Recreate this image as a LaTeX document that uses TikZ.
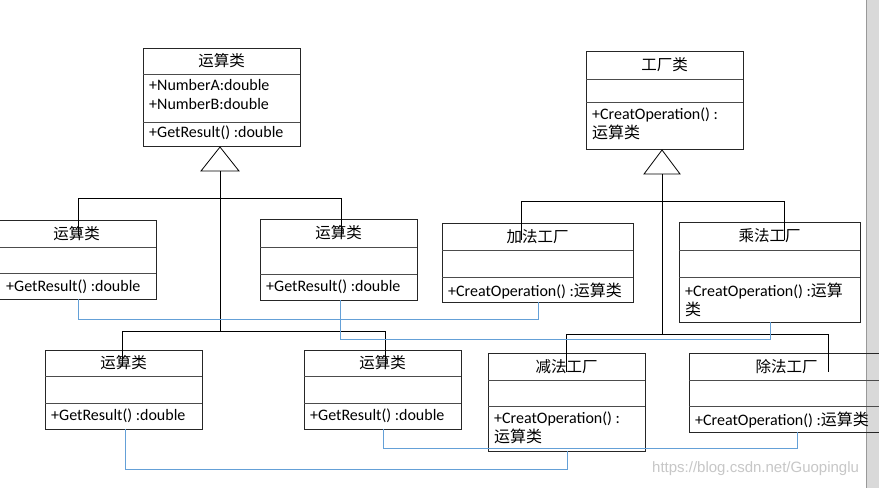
\documentclass[tikz,border=0pt]{standalone}
\usepackage{fontspec}
\setmainfont{Carlito}
\newfontfamily\cjk{Noto Sans CJK SC}
\newfontfamily\wmfont{Liberation Sans}
\definecolor{dblue}{RGB}{100,160,215}
\begin{document}
\begin{tikzpicture}[x=1pt,y=-1pt,
  frame/.style={draw=black!85,line width=0.9pt,inner sep=0,outer sep=0},
  sep/.style={draw=black!70,line width=0.9pt},
  ttl/.style={font=\fontsize{15.5}{18}\selectfont,inner sep=0},
  mth/.style={font=\fontsize{16}{19}\selectfont,inner sep=0,anchor=north west,align=left},
  inh/.style={draw=black,line width=0.8pt},
  dep/.style={draw=dblue,line width=0.8pt}]
\useasboundingbox[fill=white] (0,0) rectangle (879,488);
\fill[black!15] (866,0) rectangle (879,488);
\draw[black!40] (866,0) -- (866,488);
\newcommand\ubox[8]{%
  \node[frame,minimum width=#4-#2,minimum height=#5-#3] (#1) at ({(#2+#4)/2},{(#3+#5)/2}) {};
  \draw[sep] (#2,#6) -- (#4,#6); \draw[sep] (#2,#7) -- (#4,#7);
  \node[ttl] (#1t) at ({(#2+#4)/2},{(#3+#6)/2}) {#8};}
% top classes
\ubox{op}{143}{48}{300}{146}{74}{122}{\cjk 运算类}
\node[mth] (opa) at (149,79) {+NumberA:double\\+NumberB:double};
\node[mth] (opm) at (149,126) {+GetResult() :double};
\ubox{fa}{586}{51}{743}{149}{79}{102}{\cjk 工厂类}
\node[mth] (fam) at (592,108) {+CreatOperation() :\\{\cjk 运算类}};
% triangles
\draw[inh] (220,147) coordinate (t1) -- (239,171) -- (201,171) -- cycle;
\coordinate (t1b) at (220,171);
\draw[inh] (662,150) coordinate (t2) -- (680,174) -- (644,174) -- cycle;
\coordinate (t2b) at (662,174);
% operation subclasses
\ubox{o1}{-3}{220}{156}{299}{247}{273}{\cjk 运算类}
\node[mth] (o1m) at (6,280) {+GetResult() :double};
\ubox{o2}{260}{219}{417}{300}{247}{274}{\cjk 运算类}
\node[mth] (o2m) at (266,280) {+GetResult() :double};
\ubox{o3}{45}{350}{202}{429}{376}{403}{\cjk 运算类}
\node[mth] (o3m) at (51,409) {+GetResult() :double};
\ubox{o4}{304}{350}{461}{429}{376}{403}{\cjk 运算类}
\node[mth] (o4m) at (310,409) {+GetResult() :double};
% factories
\ubox{f1}{442}{223}{633}{302}{250}{277}{\cjk 加法工厂}
\node[mth] (f1m) at (448,283) {+CreatOperation() :{\cjk 运算类}};
\ubox{f2}{679}{222}{860}{322}{250}{277}{\cjk 乘法工厂}
\node[mth] (f2m) at (685,283) {+CreatOperation() :{\cjk 运算}\\{\cjk 类}};
\ubox{f3}{488}{353}{645}{451}{380}{406}{\cjk 减法工厂}
\node[mth] (f3m) at (494,412) {+CreatOperation() :\\{\cjk 运算类}};
\ubox{f4}{689}{353}{884}{432}{380}{406}{\cjk 除法工厂}
\node[mth] (f4m) at (695,412) {+CreatOperation() :{\cjk 运算类}};
% inheritance lines
\coordinate (j2) at (220,331);
\coordinate (k2) at (662,334);
\draw[inh] (t1b) -- (j2);
\draw[inh] (78,236) -- (78,198) -- (341,198) -- (341,236);
\draw[inh] (122,366) -- (122,331) -- (385,331) -- (385,366);
\draw[inh] (t2b) -- (k2);
\draw[inh] (521,240) -- (521,201) -- (784,201) -- (784,240);
\draw[inh] (566,372) -- (566,334) -- (828,334) -- (828,372);
% dependency lines
\draw[dep] (78,299) -- (78,319) -- (538,319) -- (538,302);
\draw[dep] (340,300) -- (340,339) -- (770,339) -- (770,322);
\draw[dep] (125,429) -- (125,469) -- (567,469) -- (567,451);
\draw[dep] (383,429) -- (383,448) -- (797,448) -- (797,432);
\node[font=\wmfont\fontsize{15}{17}\selectfont,text=black!22,anchor=west,inner sep=0] (wm) at (652,469) {https://blog.csdn.net/Guopinglu};
\end{tikzpicture}
\end{document}
